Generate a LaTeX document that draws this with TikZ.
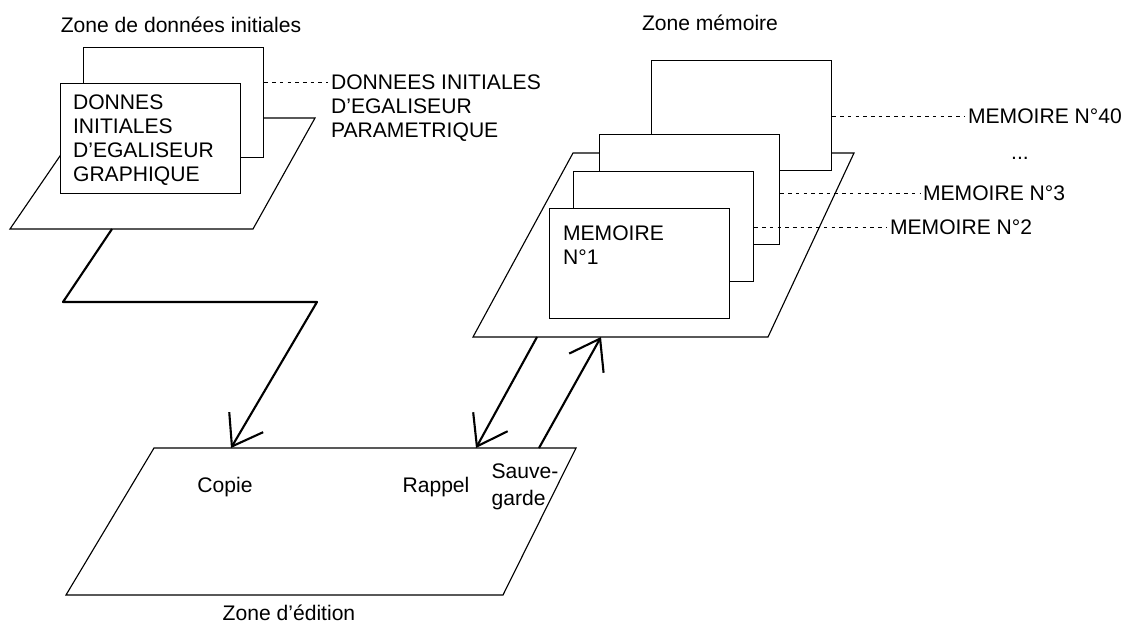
\documentclass[tikz,border=0pt]{standalone}
\usepackage{fontspec}
\setmainfont{Liberation Sans}
\usetikzlibrary{arrows.meta}

\begin{document}
\begin{tikzpicture}[x=0.025cm, y=-0.025cm,
  every node/.style={font=\fontsize{15}{17}\selectfont},
  card/.style={draw, fill=white, line width=0.9pt, minimum width=4.5cm,
    minimum height=2.75cm, inner sep=0pt, anchor=north west},
  plane/.style={draw, fill=white, line width=0.8pt},
  lbl/.style={inner sep=2pt},
  leader/.style={line width=0.5pt, dash pattern=on 2.5pt off 3pt},
  flow/.style={line width=1.5pt, line join=round,
    -{Straight Barb[length=20pt, width=28pt]}}]
  \useasboundingbox (0,0) rectangle (1126,624);
  % --- Zone de donnees initiales ---
  \draw[plane] (86,118) -- (315,118) -- (253,229) -- (10,229) -- cycle;
  \node[card] (initP) at (83,47) {};
  \node[card] (initG) at (60,83) {};
  \node[lbl, align=left, anchor=north west] (initGtxt) at (70,92)
    {DONNES\\INITIALES\\D’EGALISEUR\\GRAPHIQUE};
  \node[lbl] (initTitle) at (181,25) {Zone de données initiales};
  \node[lbl, align=left, anchor=north west] (paramlbl) at (328,72)
    {DONNEES INITIALES\\D’EGALISEUR\\PARAMETRIQUE};
  % --- Zone memoire ---
  \draw[plane] (573,153) -- (854,153) -- (768,337) -- (473,337) -- cycle;
  \node[card] (mem40) at (651,60) {};
  \node[card] (mem3) at (599,134) {};
  \node[card] (mem2) at (573,171) {};
  \node[card] (mem1) at (549,208) {};
  \node[lbl, align=left, anchor=north west] (mem1txt) at (560,223) {MEMOIRE\\N°1};
  \node[lbl] (memTitle) at (710,23) {Zone mémoire};
  \node[lbl, anchor=west] (m40lbl) at (965,116) {MEMOIRE N°40};
  \node[lbl, anchor=base] (dots) at (1020,159) {...};
  \node[lbl, anchor=west] (m3lbl) at (920,193) {MEMOIRE N°3};
  \node[lbl, anchor=west] (m2lbl) at (887,227) {MEMOIRE N°2};
  % --- Zone d'edition ---
  \draw[plane] (154,448) -- (576,448) -- (503,595) -- (66,595) -- cycle;
  \node[lbl] (copie) at (225,487) {Copie};
  \node[lbl] (rappel) at (436,487) {Rappel};
  \node[lbl, align=left, font=\fontsize{15}{19}\selectfont] (sauve) at (525,487) {Sauve-\\garde};
  \node[lbl] (editTitle) at (289,613) {Zone d’édition};
  % leaders
  \path (paramlbl.north west) ++(0,10) coordinate (pk);
  \draw[leader] (pk -| initP.east) -- (pk);
  \draw[leader] (m40lbl.west -| mem40.east) -- (m40lbl.west);
  \draw[leader] (m3lbl.west -| mem3.east) -- (m3lbl.west);
  \draw[leader] (m2lbl.west -| mem2.east) -- (m2lbl.west);
  % transfers
  \coordinate (copyFrom) at (112,229);
  \coordinate (copyBendA) at (63,302);
  \coordinate (copyBendB) at (317,302);
  \coordinate (copyTo) at (231,448);
  \coordinate (recallFrom) at (537,337);
  \coordinate (recallTo) at (476,448);
  \coordinate (saveFrom) at (539,448);
  \coordinate (saveTo) at (601,337);
  \draw[flow] (copyFrom) -- (copyBendA) -- (copyBendB) -- (copyTo);
  \draw[flow] (recallFrom) -- (recallTo);
  \draw[flow] (saveFrom) -- (saveTo);
\end{tikzpicture}
\end{document}
